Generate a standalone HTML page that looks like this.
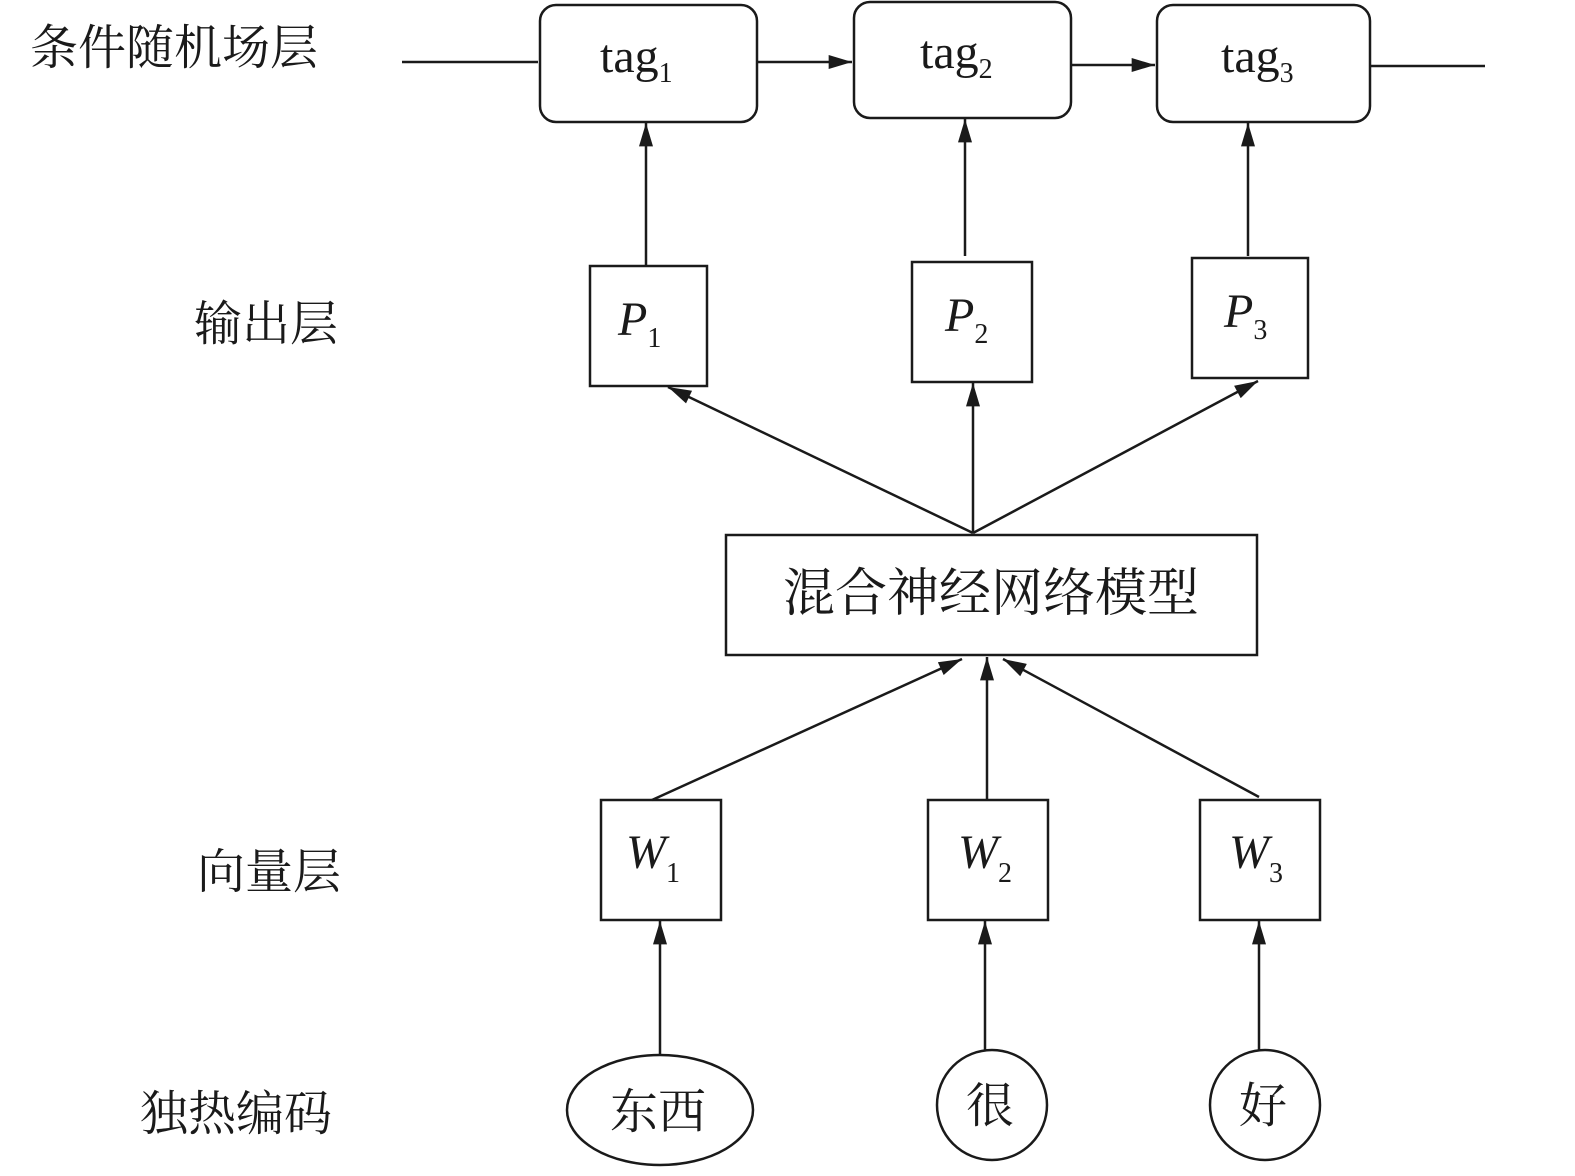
<!DOCTYPE html>
<html><head><meta charset="utf-8"><style>
html,body{margin:0;padding:0;background:#fff;}
svg{display:block}
text{font-family:"Liberation Serif","Noto Serif CJK SC",serif;fill:#1a1a1a}
</style></head><body>
<svg width="1575" height="1176" viewBox="0 0 1575 1176" xmlns="http://www.w3.org/2000/svg">
<defs>
<marker id="a" viewBox="0 0 10 10" refX="10" refY="5" markerWidth="10" markerHeight="10" markerUnits="userSpaceOnUse" orient="auto">
<path d="M0,1 L10,5 L0,9 z" fill="#1a1a1a"/></marker>
<marker id="b" viewBox="0 0 20 12" refX="20" refY="6" markerWidth="24" markerHeight="14" markerUnits="userSpaceOnUse" orient="auto">
<path d="M0,0 L20,6 L0,12 z" fill="#1a1a1a"/></marker>
</defs>
<g stroke="#1a1a1a" stroke-width="2.5" fill="none">
<!-- labels -->
</g>
<text x="30" y="64" font-size="48">条件随机场层</text>
<text x="194" y="340" font-size="48">输出层</text>
<text x="197" y="888" font-size="48">向量层</text>
<text x="140" y="1130" font-size="48">独热编码</text>

<g stroke="#1a1a1a" stroke-width="2.5" fill="none">
<line x1="402" y1="62" x2="538" y2="62"/>
<rect x="540" y="5" width="217" height="117" rx="16"/>
<rect x="854" y="2" width="217" height="116" rx="16"/>
<rect x="1157" y="5" width="213" height="117" rx="16"/>
<line x1="757" y1="62" x2="852" y2="62" marker-end="url(#b)"/>
<line x1="1071" y1="65" x2="1155" y2="65" marker-end="url(#b)"/>
<line x1="1370" y1="66" x2="1485" y2="66"/>

<rect x="590" y="266" width="117" height="120"/>
<rect x="912" y="262" width="120" height="120"/>
<rect x="1192" y="258" width="116" height="120"/>
<line x1="646" y1="266" x2="646" y2="123" marker-end="url(#b)"/>
<line x1="965" y1="256" x2="965" y2="119" marker-end="url(#b)"/>
<line x1="1248" y1="256" x2="1248" y2="123" marker-end="url(#b)"/>

<rect x="726" y="535" width="531" height="120"/>
<line x1="973" y1="533" x2="668" y2="387" marker-end="url(#b)"/>
<line x1="973" y1="533" x2="973" y2="383" marker-end="url(#b)"/>
<line x1="973" y1="533" x2="1258" y2="381" marker-end="url(#b)"/>

<rect x="601" y="800" width="120" height="120"/>
<rect x="928" y="800" width="120" height="120"/>
<rect x="1200" y="800" width="120" height="120"/>
<line x1="652" y1="800" x2="962" y2="659" marker-end="url(#b)"/>
<line x1="987" y1="800" x2="987" y2="657" marker-end="url(#b)"/>
<line x1="1259" y1="797" x2="1003" y2="659" marker-end="url(#b)"/>

<ellipse cx="660" cy="1110" rx="93" ry="55"/>
<circle cx="992" cy="1105" r="55"/>
<circle cx="1265" cy="1105" r="55"/>
<line x1="660" y1="1055" x2="660" y2="921" marker-end="url(#b)"/>
<line x1="985" y1="1051" x2="985" y2="921" marker-end="url(#b)"/>
<line x1="1259" y1="1051" x2="1259" y2="921" marker-end="url(#b)"/>
</g>

<text x="600" y="72" font-size="48">tag<tspan font-size="28" dy="10">1</tspan></text>
<text x="920" y="68" font-size="48">tag<tspan font-size="28" dy="10">2</tspan></text>
<text x="1221" y="72" font-size="48">tag<tspan font-size="28" dy="10">3</tspan></text>

<text x="618" y="335" font-size="48" font-style="italic">P<tspan font-style="normal" font-size="28" dy="12">1</tspan></text>
<text x="945" y="331" font-size="48" font-style="italic">P<tspan font-style="normal" font-size="28" dy="12">2</tspan></text>
<text x="1224" y="327" font-size="48" font-style="italic">P<tspan font-style="normal" font-size="28" dy="12">3</tspan></text>

<text x="991" y="611" font-size="52" text-anchor="middle">混合神经网络模型</text>

<text x="626" y="868" font-size="48" font-style="italic">W<tspan font-style="normal" font-size="28" dy="14">1</tspan></text>
<text x="958" y="868" font-size="48" font-style="italic">W<tspan font-style="normal" font-size="28" dy="14">2</tspan></text>
<text x="1229" y="868" font-size="48" font-style="italic">W<tspan font-style="normal" font-size="28" dy="14">3</tspan></text>

<text x="658" y="1128" font-size="48" text-anchor="middle">东西</text>
<text x="990" y="1122" font-size="48" text-anchor="middle">很</text>
<text x="1263" y="1122" font-size="48" text-anchor="middle">好</text>
</svg>
</body></html>
